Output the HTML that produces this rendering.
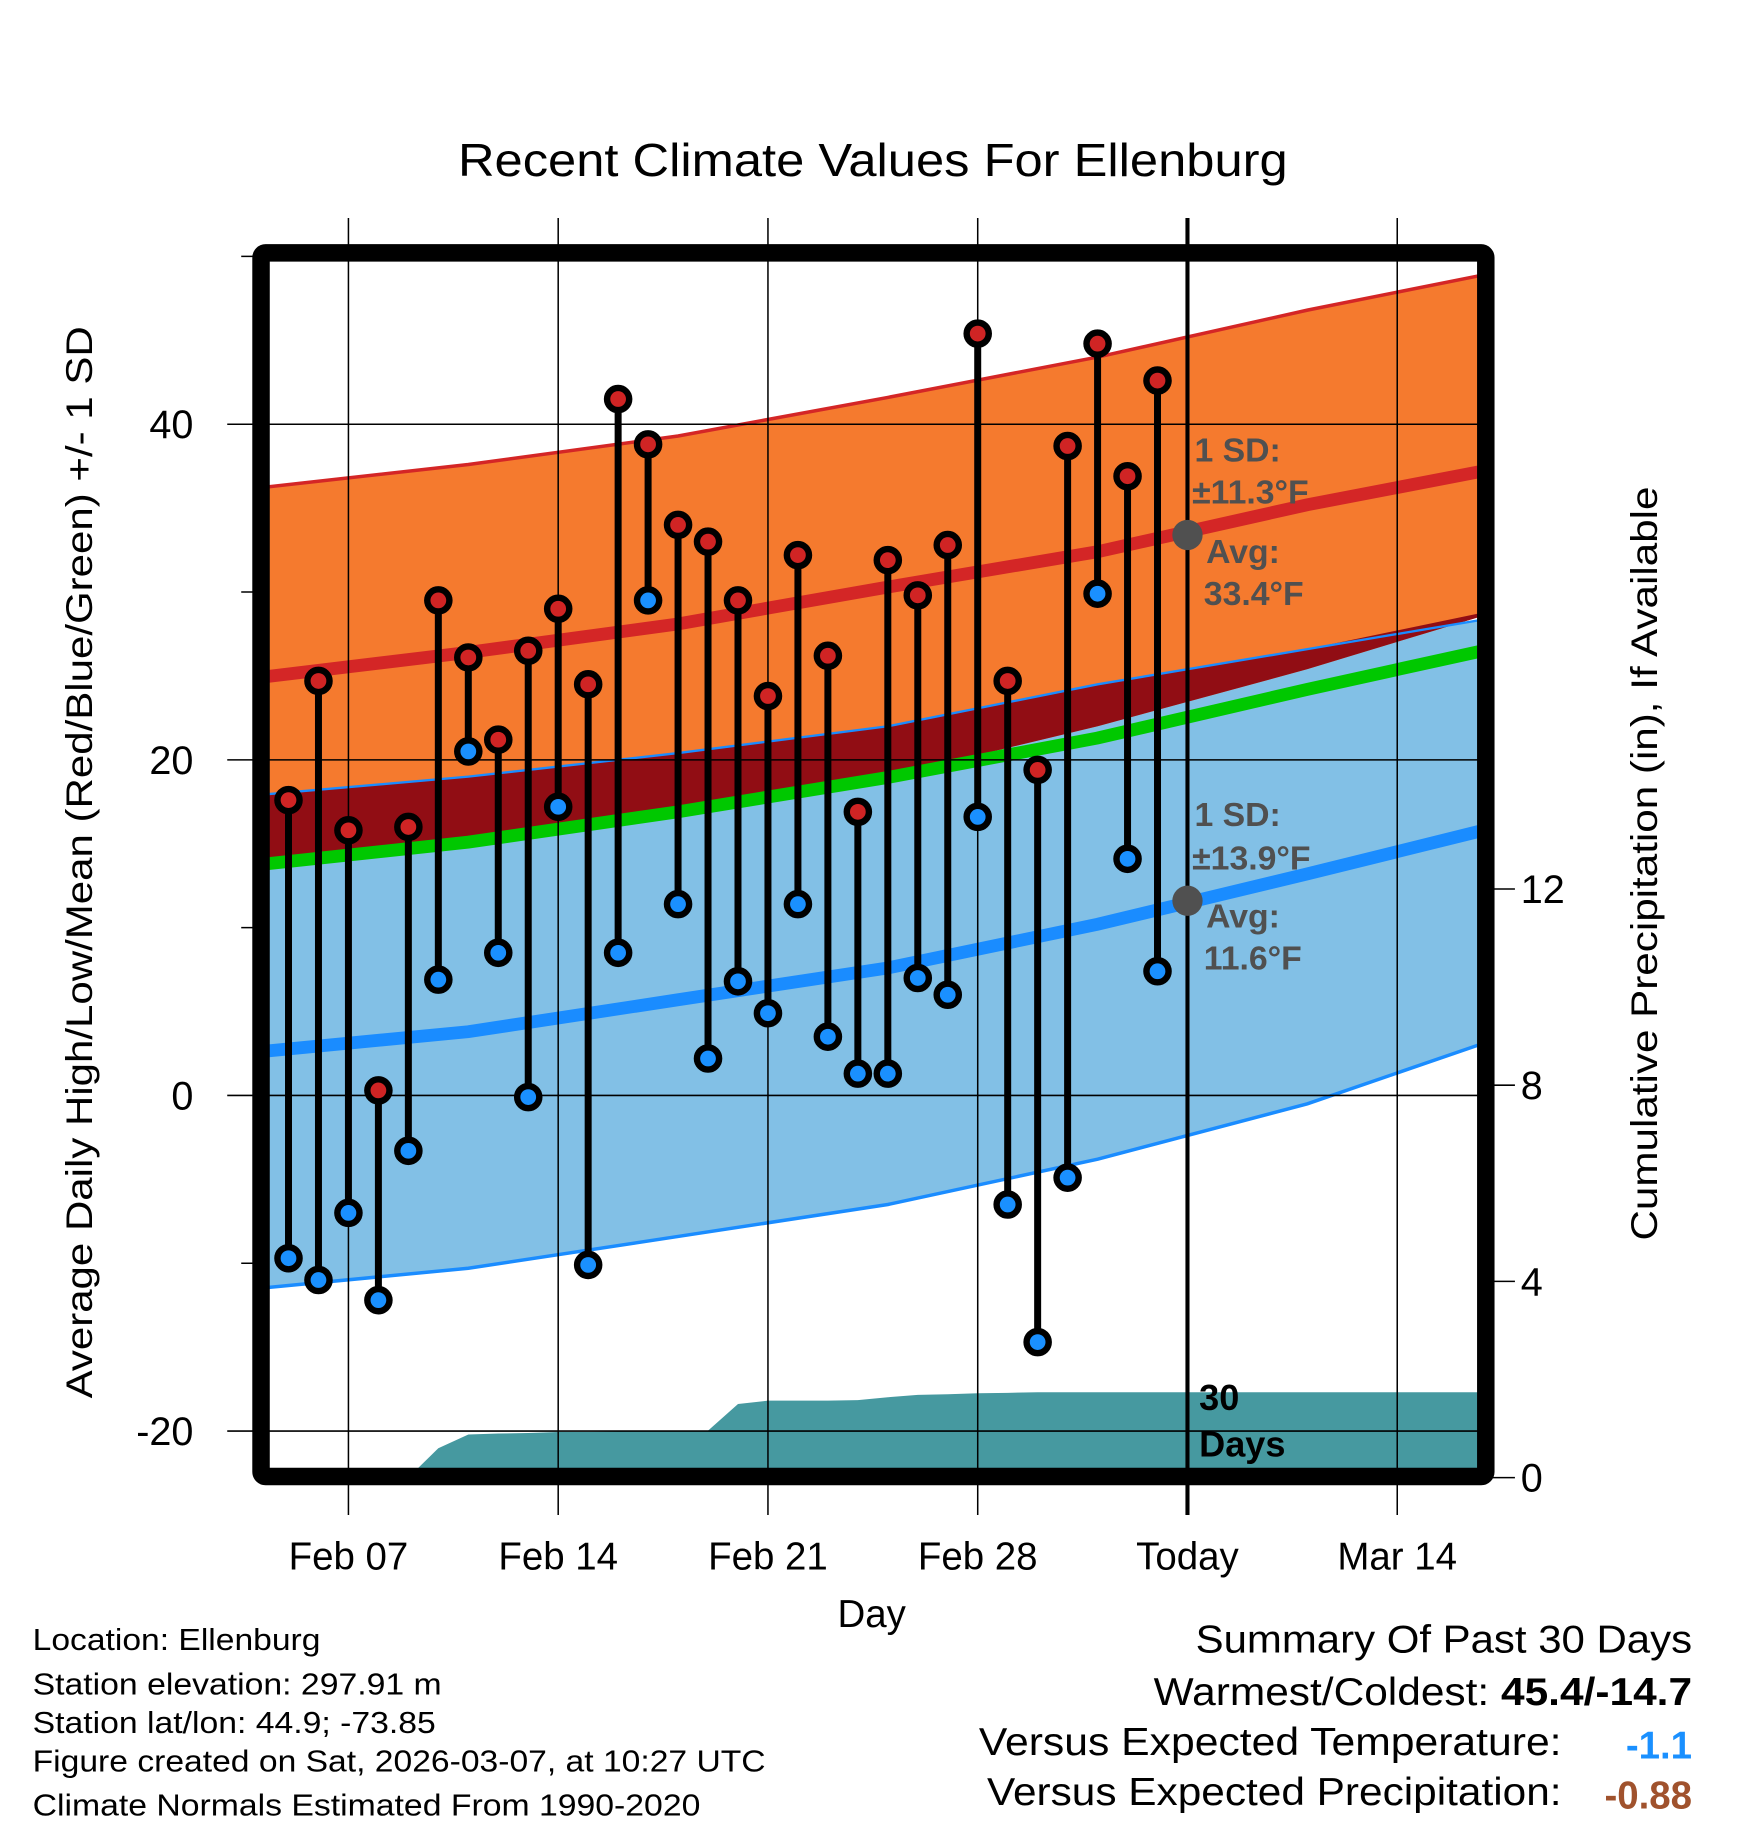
<!DOCTYPE html>
<html><head><meta charset="utf-8"><style>
html,body{margin:0;padding:0;background:#fff}
svg{display:block}
text{font-family:"Liberation Sans",sans-serif}
</style></head><body>
<svg id="chart" width="1748" height="1828" viewBox="0 0 1500 1568.6" xmlns="http://www.w3.org/2000/svg">
<defs><clipPath id="plotclip"><rect x="231" y="224" width="1037" height="1036"/></clipPath></defs>
<g id="bands" clip-path="url(#plotclip)"></g>
<g id="grid"></g>
<g id="marks" clip-path="url(#plotclip)"></g>
<g id="axes"></g>
<text x="749" y="151" text-anchor="middle" font-size="40" textLength="712" lengthAdjust="spacingAndGlyphs">Recent Climate Values For Ellenburg</text>
<text transform="translate(79,740) rotate(-90)" text-anchor="middle" font-size="32" textLength="920" lengthAdjust="spacingAndGlyphs">Average Daily High/Low/Mean (Red/Blue/Green) +/- 1 SD</text>
<text transform="translate(1422,741) rotate(-90)" text-anchor="middle" font-size="32" textLength="647" lengthAdjust="spacingAndGlyphs">Cumulative Precipitation (in), If Available</text>
<text x="748" y="1396" text-anchor="middle" font-size="33">Day</text>
<g fill="#505050" font-weight="bold" font-size="29">
<text x="1025" y="396">1 SD:</text>
<text x="1023" y="432">±11.3°F</text>
<text x="1035" y="483">Avg:</text>
<text x="1033" y="519">33.4°F</text>
</g>
<g fill="#505050" font-weight="bold" font-size="29">
<text x="1025" y="709">1 SD:</text>
<text x="1023" y="746">±13.9°F</text>
<text x="1035" y="796">Avg:</text>
<text x="1033" y="832">11.6°F</text>
</g>
<g font-weight="bold" font-size="31">
<text x="1029" y="1210">30</text>
<text x="1029" y="1250">Days</text>
</g>
<g font-size="26">
<text x="28" y="1416" textLength="247" lengthAdjust="spacingAndGlyphs">Location: Ellenburg</text>
<text x="28" y="1454" textLength="351" lengthAdjust="spacingAndGlyphs">Station elevation: 297.91 m</text>
<text x="28" y="1487" textLength="346" lengthAdjust="spacingAndGlyphs">Station lat/lon: 44.9; -73.85</text>
<text x="28" y="1520" textLength="629" lengthAdjust="spacingAndGlyphs">Figure created on Sat, 2026-03-07, at 10:27 UTC</text>
<text x="28" y="1558" textLength="573" lengthAdjust="spacingAndGlyphs">Climate Normals Estimated From 1990-2020</text>
</g>
<g font-size="33">
<text x="1452" y="1418" text-anchor="end" textLength="426" lengthAdjust="spacingAndGlyphs">Summary Of Past 30 Days</text>
<text x="1452" y="1463" text-anchor="end" textLength="462" lengthAdjust="spacingAndGlyphs">Warmest/Coldest: <tspan font-weight="bold">45.4/-14.7</tspan></text>
<text x="1340" y="1506" text-anchor="end" textLength="500" lengthAdjust="spacingAndGlyphs">Versus Expected Temperature:</text>
<text x="1452" y="1509" text-anchor="end" fill="#1a90ff" font-weight="bold">-1.1</text>
<text x="1340" y="1549" text-anchor="end" textLength="493" lengthAdjust="spacingAndGlyphs">Versus Expected Precipitation:</text>
<text x="1452" y="1552" text-anchor="end" fill="#a0522d" font-weight="bold">-0.88</text>
</g>
</svg>
<script>
// ---- data ----
const normDays = [-3, 4, 11, 18, 25, 32, 39]; // days from Feb 07
const highMean = [24.9, 26.4, 28.1, 30.3, 32.4, 35.2, 37.6];
const highUpper = [36.2, 37.6, 39.3, 41.6, 44.0, 46.8, 49.3];
const highLower = [13.9, 15.3, 16.9, 19.0, 22.0, 25.4, 29.2];
const lowMean = [2.6, 3.8, 5.7, 7.6, 10.2, 13.2, 16.3];
const lowUpper = [17.9, 19.0, 20.4, 22.0, 24.5, 26.6, 28.7];
const lowLower = [-11.5, -10.3, -8.4, -6.5, -3.8, -0.5, 3.8];
const obsDays = [-2,-1,0,1,2,3,4,5,6,7,8,9,10,11,12,13,14,15,16,17,18,19,20,21,22,23,24,25,26,27];
const highs = [17.6,24.7,15.8,0.3,16.0,29.5,26.1,21.2,26.5,29.0,24.5,41.5,38.8,34.0,33.0,29.5,23.8,32.2,26.2,16.9,31.9,29.8,32.8,45.4,24.7,19.4,38.7,44.8,36.9,42.6];
const lows = [-9.7,-11.0,-7.0,-12.2,-3.3,6.9,20.5,8.5,-0.1,17.2,-10.1,8.5,29.5,11.4,2.2,6.8,4.9,11.4,3.5,1.3,1.3,7.0,6.0,16.6,-6.5,-14.7,-4.9,29.9,14.1,7.4];
const precipDays = [2,3,4,5,6,7,8,9,10,11,12,13,14,15,16,17,18,19,20,21,22,23,24,25,26,27,28,29,30,31,32,33,34,35,36,37,38,39,40];
const precipCum = [0.0,0.6,0.88,0.9,0.91,0.93,0.93,0.94,0.95,0.95,0.96,1.5,1.57,1.57,1.57,1.58,1.64,1.69,1.70,1.72,1.73,1.74,1.74,1.74,1.74,1.74,1.74,1.74,1.74,1.74,1.74,1.74,1.74,1.74,1.74,1.74,1.74,1.74,1.74];
const xTickDays = [0, 7, 14, 21, 28, 35];
const xTickLabels = ["Feb 07","Feb 14","Feb 21","Feb 28","Today","Mar 14"];
const yTicks = [40, 20, 0, -20];
const yMinorTicks = [50, 30, 10, -10];
const y2Ticks = [0, 4, 8, 12];
const todayDay = 28;
const todayHigh = 33.4, todayLow = 11.6;

// ---- axes functions ----
const X = d => 299 + d * 180 / 7;
const Y = t => 940 - t * 14.4;
const Y2 = p => 1268 - p * 42.1;
const NS = "http://www.w3.org/2000/svg";
function mk(tag, attrs, parent){const e=document.createElementNS(NS,tag);for(const k in attrs)e.setAttribute(k,attrs[k]);parent.appendChild(e);return e;}
const bands=document.getElementById('bands'), grid=document.getElementById('grid'), marks=document.getElementById('marks'), axes=document.getElementById('axes');
const pts=(days,vals)=>days.map((d,i)=>X(d).toFixed(1)+','+Y(vals[i]).toFixed(1));
const mean=highMean.map((m,i)=>(m+lowMean[i])/2);
const rev=a=>a.slice().reverse();

let e;
e=mk('polygon',{points:pts(normDays,lowUpper).concat(rev(pts(normDays,lowLower))).join(' '),fill:'#82c0e6'},bands);


e=mk('polygon',{points:pts(normDays,highUpper).concat(rev(pts(normDays,highLower))).join(' '),fill:'#f57a2e'},bands);


const ovTop=lowUpper.map((v,i)=>Math.max(v,highLower[i]));
e=mk('polygon',{points:pts(normDays,ovTop).concat(rev(pts(normDays,highLower))).join(' '),fill:'#910d14'},bands);


const line=(vals,col,w,name)=>{const l=mk('polyline',{points:pts(normDays,vals).join(' '),fill:'none',stroke:col,'stroke-width':w},bands);

};
line(highUpper,'#d42626',3,'high-upper-line');
line(lowUpper,'#1a8cff',2,'low-upper-line');
line(lowLower,'#1a8cff',3,'low-lower-line');
line(mean,'#00c800',11,'mean-line');
line(highMean,'#d42626',11,'high-mean-line');
line(lowMean,'#1a8cff',11,'low-mean-line');
// precip
const pp=precipDays.map((d,i)=>X(d).toFixed(1)+','+Y2(precipCum[i]).toFixed(1));
e=mk('polygon',{points:pp.join(' ')+' '+X(precipDays[precipDays.length-1])+','+Y2(-1)+' '+X(precipDays[0])+','+Y2(-1),fill:'#4699a0'},bands);



// grid
yTicks.forEach(t=>{const g=mk('line',{x1:195,x2:1268,y1:Y(t),y2:Y(t),stroke:'#000','stroke-width':1.3},grid);


const tx=mk('text',{x:166,y:Y(t)+12,'text-anchor':'end','font-size':34},axes);tx.textContent=String(t);

});
yMinorTicks.forEach(t=>{const g=mk('line',{x1:207,x2:222,y1:Y(t),y2:Y(t),stroke:'#000','stroke-width':1.3},grid);

});
xTickDays.forEach((d,i)=>{const today=d===todayDay;
const g=mk('line',{x1:X(d),x2:X(d),y1:187,y2:1300,stroke:'#000','stroke-width':today?3.5:1.3},grid);


const tx=mk('text',{x:X(d),y:1347,'text-anchor':'middle','font-size':33},axes);tx.textContent=xTickLabels[i];

});
y2Ticks.forEach(p=>{const g=mk('line',{x1:1268,x2:1300,y1:Y2(p),y2:Y2(p),stroke:'#000','stroke-width':1.3},axes);


const tx=mk('text',{x:1305,y:Y2(p)+12,'font-size':34},axes);tx.textContent=String(p);

});

// observations
obsDays.forEach((d,i)=>{const x=X(d);
const s=mk('line',{x1:x,x2:x,y1:Y(highs[i]),y2:Y(lows[i]),stroke:'#000','stroke-width':6},marks);


const h=mk('circle',{cx:x,cy:Y(highs[i]),r:9.5,fill:'#d02424',stroke:'#000','stroke-width':5.5},marks);


const l=mk('circle',{cx:x,cy:Y(lows[i]),r:9.5,fill:'#1a90ff',stroke:'#000','stroke-width':5.5},marks);

});
// today normal dots
[todayHigh,todayLow].forEach(v=>{const c=mk('circle',{cx:X(todayDay),cy:Y(v),r:13,fill:'#505050'},axes);

});

// frame
e=mk('rect',{x:224,y:217,width:1051,height:1050,fill:'none',stroke:'#000','stroke-width':15,rx:4},axes);


</script>
</body></html>
